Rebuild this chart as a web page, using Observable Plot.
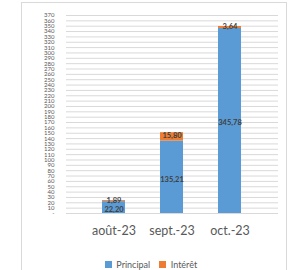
<!DOCTYPE html>
<html><head><meta charset="utf-8">
<script src="https://cdn.jsdelivr.net/npm/d3@7"></script>
<script src="https://cdn.jsdelivr.net/npm/@observablehq/plot@0.6"></script>
<style>
body{margin:0;background:#fff;font-family:Lato,"Liberation Sans",sans-serif;}
#wrap{position:relative;width:295px;height:270px;overflow:hidden;}
#frame{position:absolute;left:21px;top:2px;width:266px;height:280px;border:1px solid #d9d9d9;box-sizing:border-box;}
#chart{position:absolute;left:0;top:0;}
#legend{position:absolute;left:8px;top:248px;width:295px;display:flex;justify-content:center;}
</style></head>
<body><div id="wrap"><div id="frame"></div><div id="chart"></div><div id="legend"></div></div>
<script>
const months = ["août-23","sept.-23","oct.-23"];
const principal = [22.20, 135.21, 345.78];
const interet = [1.89, 15.80, 3.64];
const seriesNames = ["Principal","Intérêt"];
const seriesColors = ["#5B9BD5","#ED7D31"];
const yTicks = d3.range(0, 371, 10);

const data = [];
months.forEach((m,i)=>{
  data.push({month:m, series:"Principal", value:principal[i]});
  data.push({month:m, series:"Intérêt", value:interet[i]});
});
const fmt = v => v.toFixed(2).replace(".", ",");
const stackOpts = {x:"month", y:"value", z:"series", order: seriesNames};
const labelStyle = {fill:"#404040", fontSize:7.5, fontWeight:"bold"};

const chart = Plot.plot({
  width:295, height:240,
  marginLeft:66, marginRight:17, marginTop:15, marginBottom:27,
  style:{fontFamily:"Lato, 'Liberation Sans', sans-serif", background:"transparent"},
  x:{domain:months, padding:0.6, label:null, tickSize:0, tickPadding:12},
  y:{domain:[0,370], ticks:yTicks, label:null, tickSize:0, tickPadding:12,
     tickFormat:d=> d===0 ? "-" : String(d)},
  color:{domain:seriesNames, range:seriesColors},
  marks:[
    Plot.gridY(yTicks, {stroke:"#d9d9d9", strokeOpacity:1, strokeWidth:1}),
    Plot.axisY({ticks:yTicks, tickSize:0, tickPadding:12, fontSize:6, fill:"#595959",
      tickFormat:d=> d===0 ? "-" : String(d)}),
    Plot.axisX({tickSize:0, tickPadding:13, fontSize:12.5, fill:"#595959"}),
    Plot.barY(data, Plot.stackY({...stackOpts, fill:"series"})),
    Plot.text(data, Plot.stackY({...stackOpts, ...labelStyle,
      text:d=> d.series==="Principal" ? fmt(d.value) : null, dy:2})),
    Plot.text(data, Plot.stackY({...stackOpts, ...labelStyle,
      text:d=> d.series==="Intérêt" ? fmt(d.value) : null, dy:-1}))
  ]
});
document.getElementById("chart").appendChild(chart);

const leg = Plot.legend({color:{domain:seriesNames, range:seriesColors, type:"categorical"},
  swatchSize:7, style:{fontFamily:"Lato, 'Liberation Sans', sans-serif", fontSize:"9px", color:"#595959"}});
document.getElementById("legend").appendChild(leg);
</script></body></html>
